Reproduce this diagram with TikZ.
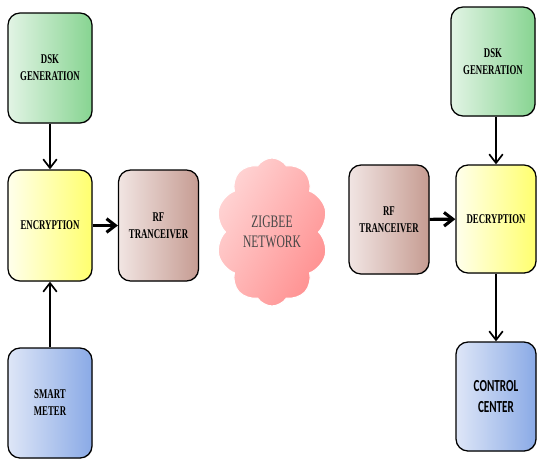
\documentclass[tikz,border=0pt]{standalone}
\usepackage{fontspec}
\setmainfont[FakeStretch=0.66]{Liberation Serif}
\newfontfamily\ccfont[FakeStretch=0.66]{Carlito}
\usepackage{tikz}
\usetikzlibrary{shapes.symbols, arrows.meta, positioning, shadows}

\definecolor{greenL}{RGB}{226,244,229}
\definecolor{greenR}{RGB}{135,212,145}
\definecolor{yellowL}{RGB}{255,255,236}
\definecolor{yellowR}{RGB}{255,255,110}
\definecolor{brownL}{RGB}{241,229,227}
\definecolor{brownR}{RGB}{198,156,146}
\definecolor{blueL}{RGB}{222,230,247}
\definecolor{blueR}{RGB}{138,170,230}
\definecolor{cloudL}{RGB}{255,212,212}
\definecolor{cloudR}{RGB}{255,145,145}

\begin{document}
\begin{tikzpicture}[>={Straight Barb[length=2.2mm, width=3.4mm]}]

        % --- Styles ---
        \tikzstyle{block} = [rectangle, rounded corners=0.3cm, minimum width=2.1cm, minimum height=2.75cm, text centered, align=center, draw=black, line width=0.9pt, font=\bfseries\fontsize{9.5}{12}\selectfont, drop shadow={opacity=0.2, shadow xshift=0.6pt, shadow yshift=-0.6pt}]
        \tikzstyle{dsk} = [block, left color=greenL, right color=greenR]
        \tikzstyle{crypt} = [block, left color=yellowL, right color=yellowR]
        \tikzstyle{radio} = [block, left color=brownL, right color=brownR, minimum width=2.0cm]
        \tikzstyle{meter} = [block, left color=blueL, right color=blueR]
        \tikzstyle{arrow} = [line width=1.2pt, ->]
        \tikzstyle{fatarrow} = [line width=2.2pt, ->]

        \useasboundingbox (0,0) rectangle (13.425,11.475);

        % --- Sender side ---
        \node (dsk_tx) [dsk] at (1.25,9.775) {DSK\\GENERATION};
        \node (encrypt) [crypt, minimum height=2.775cm] at (1.25,5.8375) {ENCRYPTION};
        \node (rf_tx) [radio, minimum height=2.775cm] at (3.9625,5.8375) {RF\\TRANCEIVER};
        \node (smart_meter) [meter] at (1.25,1.4) {SMART\\METER};

        % --- Network ---
        \node (zigbee) [cloud, cloud puffs=10, cloud puff arc=115, aspect=0.75, minimum width=2.75cm, minimum height=3.7cm, draw=white, line width=0.8pt, left color=cloudL, right color=cloudR, shading angle=60, text=black!72, align=center, font=\fontsize{12.5}{14}\selectfont] at (6.8,5.675) {ZIGBEE\\NETWORK};

        % --- Receiver side ---
        \node (dsk_rx) [dsk, minimum height=2.725cm] at (12.325,9.9375) {DSK\\GENERATION};
        \node (rf_rx) [radio, minimum height=2.725cm] at (9.725,5.9875) {RF\\TRANCEIVER};
        \node (decrypt) [crypt, minimum width=2.0cm, minimum height=2.7cm] at (12.4,6.0) {DECRYPTION};
        \node (control) [meter, minimum width=2.0cm, minimum height=2.725cm, font=\ccfont\bfseries\fontsize{12}{14.5}\selectfont] at (12.4,1.5625) {CONTROL\\CENTER};

        % --- Arrows ---
        \draw[arrow] (dsk_tx) -- (encrypt);
        \draw[arrow] (smart_meter) -- (encrypt);
        \draw[fatarrow] (encrypt) -- (rf_tx);
        \draw[fatarrow] (rf_rx) -- (decrypt);
        \draw[arrow] (dsk_rx.south -| decrypt) -- (decrypt);
        \draw[arrow] (decrypt) -- (control);
        \end{tikzpicture}
\end{document}
